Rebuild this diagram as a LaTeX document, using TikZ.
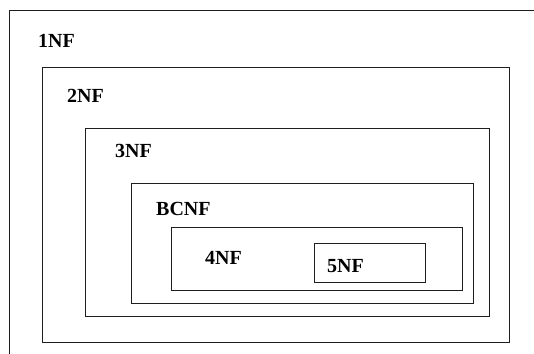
\documentclass[tikz,border=0pt]{standalone}
\usepackage{fontspec}
\setmainfont{Liberation Serif}
\usepackage{tikz}
\usetikzlibrary{positioning}
\definecolor{boxInk}{RGB}{30,30,30}
\tikzset{
  nf box/.style={draw=boxInk,line width=0.9pt},
  nf label/.style={anchor=base west,inner sep=0pt,font=\fontsize{20}{24}\selectfont\bfseries,text=black}
}
\begin{document}
\begin{tikzpicture}[x=1pt,y=-1pt]
        \useasboundingbox (0,0) rectangle (534,353);
        \clip (0,0) rectangle (534,353);
        \draw[nf box] (9,10) rectangle (560,380);
        \draw[nf box] (42,67) rectangle (509,342);
        \draw[nf box] (85,128) rectangle (489,316);
        \draw[nf box] (131,183) rectangle (473,303);
        \draw[nf box] (171,227) rectangle (462,290);
        \draw[nf box] (314,243) rectangle (425,282);
        \node[nf label] (first) at (38,47) {1NF};
        \node[nf label] (second) at (67,102) {2NF};
        \node[nf label] (third) at (115,157) {3NF};
        \node[nf label] (boycecodd) at (156,215) {BCNF};
        \node[nf label] (fourth) at (205,264) {4NF};
        \node[nf label] (fifth) at (327,272) {5NF};
      \end{tikzpicture}
\end{document}
